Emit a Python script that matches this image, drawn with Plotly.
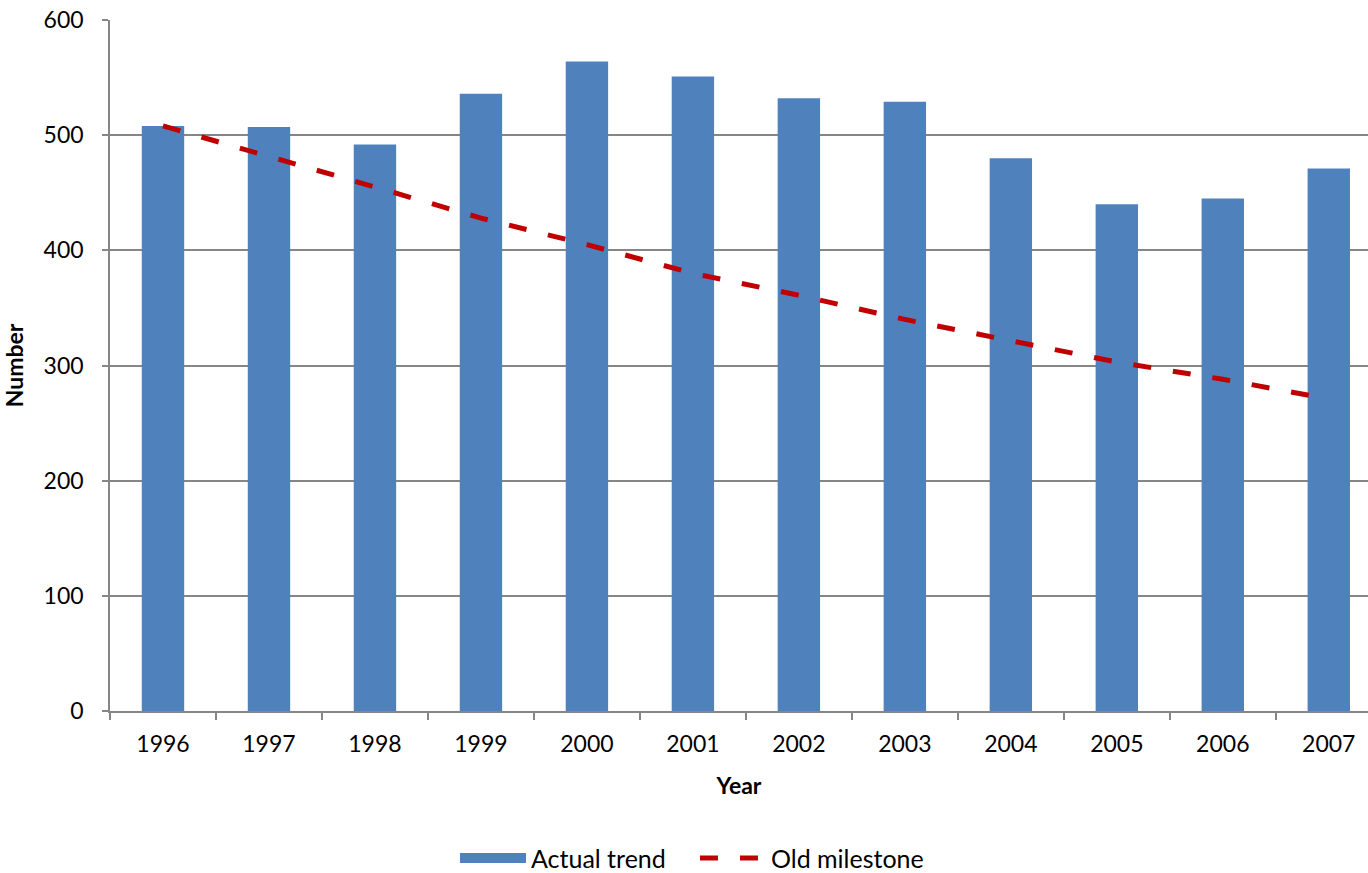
import plotly.graph_objects as go

years = ["1996", "1997", "1998", "1999", "2000", "2001", "2002", "2003", "2004", "2005", "2006", "2007"]
actual_trend = [508, 507, 492, 536, 564, 551, 532, 529, 480, 440, 445, 471]
old_milestone = [508, 482, 455, 428, 405, 380, 361, 340, 321, 303, 288, 271]
y_ticks = [0, 100, 200, 300, 400, 500, 600]

FONT = "Lato"
BLUE = "#4F81BD"
RED = "#C00000"
fig = go.Figure()
fig.add_trace(go.Bar(
    x=years, y=actual_trend, name="Actual trend",
    marker=dict(color=BLUE, line=dict(width=0)),
    width=0.4, showlegend=False, legendgroup="a",
))
# legend entry drawn as a wide block, like the original
fig.add_trace(go.Scatter(
    x=[None], y=[None], name="Actual trend", mode="lines",
    line=dict(color=BLUE, width=15), legendgroup="a",
))
fig.add_trace(go.Scatter(
    x=years, y=old_milestone, name="Old milestone", mode="lines",
    line=dict(color=RED, width=5, dash="18px,22px"),
))

fig.update_layout(
    width=1368, height=873,
    margin=dict(l=110, r=0, t=20, b=162, autoexpand=False),
    paper_bgcolor="white", plot_bgcolor="white",
    font=dict(family=FONT, size=23, color="#000000"),
    showlegend=True,
    legend=dict(orientation="h", x=0.465, xanchor="center", y=-0.213, yanchor="middle",
                font=dict(size=25), itemwidth=66, traceorder="normal",
                entrywidth=159, entrywidthmode="pixels"),
    bargap=0.6,
)
fig.update_xaxes(
    type="category", range=[-0.5, 11.37], automargin=False,
    showline=True, linecolor="#868686", linewidth=1.5,
    ticks="outside", ticklen=7, tickcolor="#868686", tickwidth=1.5,
    tickson="boundaries", showgrid=False, ticklabelstandoff=12,
    title=dict(text="<b>Year</b>", font=dict(size=23), standoff=22),
)
fig.update_yaxes(
    range=[0, 600], tickvals=y_ticks, automargin=False,
    showline=True, linecolor="#868686", linewidth=1.5,
    ticks="outside", ticklen=6, tickcolor="#868686", tickwidth=1.5,
    showgrid=True, gridcolor="#868686", gridwidth=1.5,
    zeroline=False, ticklabelstandoff=14,
    title=dict(text="<b>Number</b>", font=dict(size=23), standoff=18),
)

fig.write_html("out.html")
